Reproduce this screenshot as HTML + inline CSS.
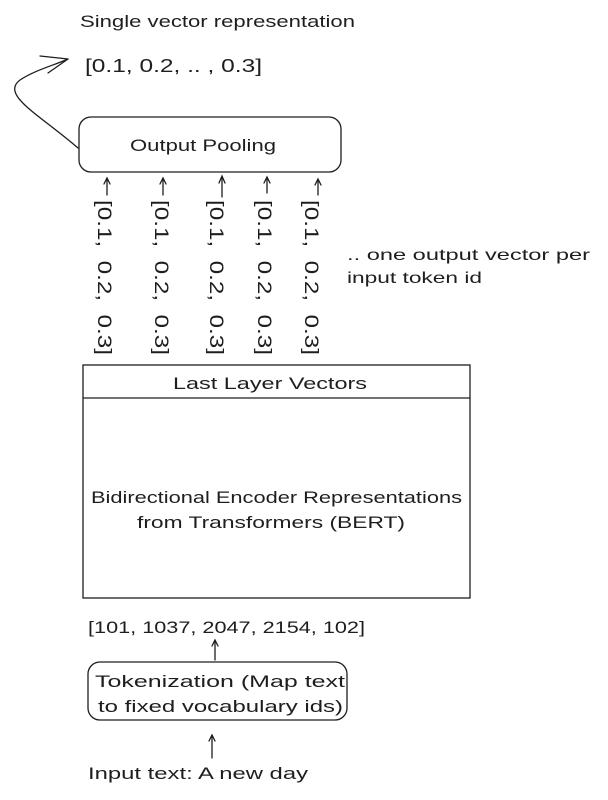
<!DOCTYPE html>
<html><head><style>
body{margin:0;background:#fff;width:608px;height:795px;overflow:hidden}
svg text{font-family:"Liberation Sans",sans-serif;fill:#1e1e1e}
</style></head><body>
<svg width="608" height="795" viewBox="0 0 608 795" fill="none" stroke="#1e1e1e" stroke-width="1.3" stroke-linecap="round">
<text x="80" y="27" font-size="17" stroke="none" textLength="275" lengthAdjust="spacingAndGlyphs">Single vector representation</text>
<text x="85" y="72" font-size="18" stroke="none" textLength="177" lengthAdjust="spacingAndGlyphs">[0.1, 0.2, .. , 0.3]</text>
<path d="M78 148 C40 115,0 95,20 80 C35 70,55 65,68 59"/>
<path d="M68 59 L40 56 M68 59 L48 73"/>
<rect x="79" y="117" width="262" height="55" rx="12"/>
<text x="130" y="151" font-size="17" stroke="none" textLength="146" lengthAdjust="spacingAndGlyphs">Output Pooling</text>
<g>
<path d="M107 195 V178 M104 184 L107 178 L110 184"/>
<path d="M163 195 V178 M160 184 L163 178 L166 184"/>
<path d="M222 197 V176 M219 183 L222 176 L225 183"/>
<path d="M267 193 V177 M264 183 L267 177 L270 183"/>
<path d="M318 195 V179 M315 185 L318 179 L321 185"/>
</g>
<g font-size="19" stroke="none">
<text transform="translate(98,200) rotate(90)" xml:space="preserve" textLength="155" lengthAdjust="spacingAndGlyphs">[0.1,  0.2,  0.3]</text>
<text transform="translate(155,200) rotate(90)" xml:space="preserve" textLength="155" lengthAdjust="spacingAndGlyphs">[0.1,  0.2,  0.3]</text>
<text transform="translate(210,200) rotate(90)" xml:space="preserve" textLength="155" lengthAdjust="spacingAndGlyphs">[0.1,  0.2,  0.3]</text>
<text transform="translate(258,200) rotate(90)" xml:space="preserve" textLength="155" lengthAdjust="spacingAndGlyphs">[0.1,  0.2,  0.3]</text>
<text transform="translate(305,200) rotate(90)" xml:space="preserve" textLength="155" lengthAdjust="spacingAndGlyphs">[0.1,  0.2,  0.3]</text>
</g>
<text x="347" y="260" font-size="16" stroke="none" textLength="243" lengthAdjust="spacingAndGlyphs">.. one output vector per</text>
<text x="347" y="283" font-size="16" stroke="none" textLength="135" lengthAdjust="spacingAndGlyphs">input token id</text>
<rect x="83" y="365" width="387" height="233"/>
<line x1="83" y1="398" x2="470" y2="398"/>
<text x="173" y="389" font-size="17" stroke="none" textLength="194" lengthAdjust="spacingAndGlyphs">Last Layer Vectors</text>
<text x="91" y="503" font-size="17" stroke="none" textLength="371" lengthAdjust="spacingAndGlyphs">Bidirectional Encoder Representations</text>
<text x="137" y="528" font-size="17" stroke="none" textLength="268" lengthAdjust="spacingAndGlyphs">from Transformers (BERT)</text>
<text x="88" y="633" font-size="17" stroke="none" textLength="277" lengthAdjust="spacingAndGlyphs">[101, 1037, 2047, 2154, 102]</text>
<path d="M215 660 V640 M212 646 L215 640 L218 646"/>
<rect x="88" y="662" width="259" height="58" rx="12"/>
<text x="95" y="687" font-size="17" stroke="none" textLength="250" lengthAdjust="spacingAndGlyphs">Tokenization (Map text</text>
<text x="98" y="712" font-size="17" stroke="none" textLength="245" lengthAdjust="spacingAndGlyphs">to fixed vocabulary ids)</text>
<path d="M212 758 V735 M209 741 L212 735 L215 741"/>
<text x="88" y="779" font-size="17" stroke="none" textLength="220" lengthAdjust="spacingAndGlyphs">Input text: A new day</text>
</svg>
</body></html>
